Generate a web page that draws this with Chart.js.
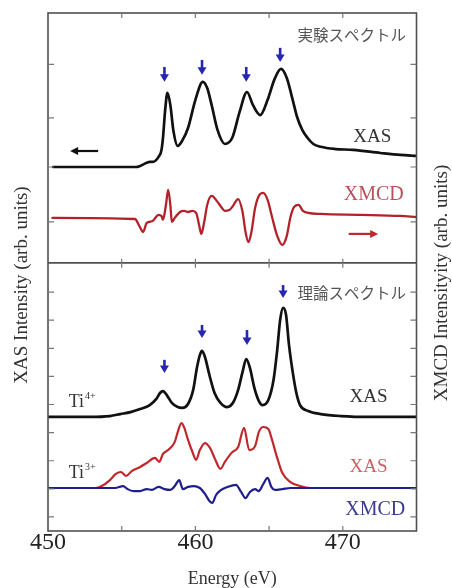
<!DOCTYPE html>
<html>
<head>
<meta charset="utf-8">
<script src="https://cdn.jsdelivr.net/npm/chart.js@4"></script>
<style>
html,body{margin:0;padding:0;background:#fff;}
#wrap{width:452px;height:588px;}
</style>
</head>
<body>
<div id="wrap"><canvas id="c" width="452" height="588"></canvas></div>
<script>
// ---------- data (energy in eV, intensity in arb. units on a shared offset axis) ----------
const energyMin = 450, energyMax = 475;
const energyTickLabels = [450, 460, 470];
const energyMinorTicks = [455, 460, 465, 470];
const intensityMax = 18.43;
const panelSplit = 9.54;
const yTicksTop = [11.0, 12.95, 14.7, 16.6];
const yTicksBottom = [0.5, 1.5, 2.5, 3.5, 4.5, 5.5, 6.5, 7.5, 8.5];

// experiment XAS (top)
const expXasE = [450.35, 456.0, 456.25, 456.7, 456.9, 457.1, 457.5, 457.7, 457.8, 457.95, 458.1, 458.3, 458.5, 458.8, 459.1, 459.5, 460.0, 460.5, 460.8, 461.1, 461.5, 462.0, 462.5, 463.0, 463.5, 463.9, 464.4, 464.9, 465.35, 465.8, 466.2, 466.6, 466.9, 467.25, 467.6, 468.0, 468.5, 469.5, 470.7, 472.55, 473.9, 475];
const expXasV = [12.95, 12.95, 12.99, 13.10, 13.13, 13.13, 13.31, 13.56, 13.99, 14.98, 15.59, 15.16, 14.27, 13.70, 13.88, 14.34, 15.34, 15.98, 15.76, 15.16, 14.27, 13.77, 13.99, 14.91, 15.62, 15.16, 14.80, 15.34, 16.05, 16.44, 16.12, 15.34, 14.73, 14.27, 13.99, 13.77, 13.67, 13.59, 13.56, 13.45, 13.38, 13.35];

// experiment XMCD (top)
const expXmcdE = [450.3, 455.9, 456.2, 456.45, 456.7, 457.1, 457.5, 457.7, 457.8, 458.0, 458.15, 458.3, 458.4, 458.6, 458.95, 459.25, 459.5, 459.8, 460.05, 460.25, 460.4, 460.6, 460.8, 461.1, 461.5, 461.75, 462.0, 462.3, 462.5, 462.9, 463.2, 463.4, 463.6, 463.8, 464.05, 464.3, 464.6, 464.9, 465.2, 465.55, 465.9, 466.2, 466.45, 466.7, 467.0, 467.3, 467.65, 468.5, 471.2, 473.9, 475];
const expXmcdV = [11.14, 11.10, 10.85, 10.64, 10.96, 11.03, 11.25, 11.21, 11.07, 11.60, 12.14, 11.60, 11.00, 11.14, 11.35, 11.39, 11.35, 11.39, 11.32, 10.89, 10.57, 11.00, 11.60, 11.92, 11.71, 11.53, 11.39, 11.42, 11.53, 11.81, 11.35, 10.64, 10.28, 10.64, 11.49, 11.92, 12.03, 11.78, 11.17, 10.50, 10.18, 10.50, 11.17, 11.53, 11.60, 11.39, 11.32, 11.28, 11.25, 11.21, 11.17];

// theory Ti4+ XAS (bottom)
const ti4XasE = [450, 452.85, 454.2, 454.9, 455.6, 456.25, 456.9, 457.35, 457.6, 457.8, 458.1, 458.4, 458.8, 459.1, 459.5, 459.85, 460.1, 460.3, 460.45, 460.65, 460.95, 461.3, 461.7, 462.15, 462.55, 462.9, 463.2, 463.45, 463.7, 464.0, 464.3, 464.55, 464.95, 465.3, 465.55, 465.75, 465.95, 466.15, 466.35, 466.6, 466.85, 467.1, 467.65, 468.5, 469.85, 471.9, 475];
const ti4XasV = [4.06, 4.06, 4.09, 4.16, 4.23, 4.34, 4.48, 4.70, 4.91, 4.98, 4.80, 4.56, 4.41, 4.38, 4.52, 5.02, 5.80, 6.26, 6.41, 6.19, 5.55, 4.91, 4.56, 4.41, 4.56, 5.02, 5.66, 6.12, 5.80, 5.09, 4.63, 4.48, 4.66, 5.37, 6.44, 7.51, 7.94, 7.69, 6.62, 5.66, 4.91, 4.48, 4.27, 4.16, 4.09, 4.06, 4.06];

// theory Ti3+ XAS (bottom)
const ti3XasE = [450, 453.2, 453.65, 454.2, 454.6, 454.95, 455.3, 455.7, 456.25, 456.7, 457.25, 457.55, 457.8, 458.15, 458.6, 458.8, 459.05, 459.25, 459.5, 459.8, 460.05, 460.3, 460.65, 461.0, 461.3, 461.7, 462.0, 462.45, 462.9, 463.3, 463.65, 464.05, 464.3, 464.6, 464.95, 465.2, 465.55, 465.9, 466.45, 467.1, 467.8, 475];
const ti3XasV = [1.53, 1.53, 1.60, 1.81, 2.03, 2.10, 1.96, 2.14, 2.28, 2.42, 2.60, 2.46, 2.74, 2.88, 3.17, 3.52, 3.84, 3.67, 3.24, 2.81, 2.53, 2.88, 3.13, 2.95, 2.60, 2.21, 2.46, 2.78, 2.99, 3.67, 2.88, 3.02, 3.52, 3.70, 3.63, 3.24, 2.60, 2.06, 1.74, 1.60, 1.53, 1.53];

// theory Ti3+ XMCD (bottom)
const ti3XmcdE = [450, 454.55, 455.1, 455.4, 455.8, 456.25, 456.7, 457.05, 457.5, 457.9, 458.3, 458.6, 458.9, 459.15, 459.5, 459.9, 460.3, 460.65, 460.95, 461.15, 461.4, 461.75, 462.2, 462.75, 463.1, 463.4, 463.7, 464.05, 464.3, 464.6, 464.9, 465.15, 465.4, 465.9, 466.45, 475];
const ti3XmcdV = [1.53, 1.53, 1.60, 1.49, 1.42, 1.42, 1.49, 1.46, 1.57, 1.49, 1.46, 1.60, 1.81, 1.49, 1.57, 1.60, 1.53, 1.32, 1.07, 1.00, 1.28, 1.46, 1.57, 1.64, 1.39, 1.17, 1.39, 1.49, 1.42, 1.67, 1.89, 1.57, 1.46, 1.49, 1.53, 1.53];

// peak markers (down arrows): energy, arrow tail, arrow tip
const peakArrowE    = [457.9, 460.45, 463.45, 465.75, 457.9, 460.45, 463.5, 465.95];
const peakArrowTail = [16.51, 16.76, 16.51, 17.19, 6.09, 7.33, 7.15, 8.75];
const peakArrowTip  = [15.98, 16.23, 15.98, 16.69, 5.62, 6.87, 6.62, 8.29];

// ---------- annotations ----------
const SERIF = '"Liberation Serif", "Times New Roman", serif';
const CJK = '"Noto Sans CJK JP", "Noto Sans", sans-serif';
const textNotes = [
  {t: '実験スペクトル', e: 470.6, v: 17.65, c: '#555', f: '15.5px ' + CJK},
  {t: 'XAS', e: 472.0, v: 14.0, c: '#333', f: '19px ' + SERIF},
  {t: 'XMCD', e: 472.1, v: 11.96, c: '#b8505c', f: '20px ' + SERIF},
  {t: '理論スペクトル', e: 470.6, v: 8.47, c: '#555', f: '15.5px ' + CJK},
  {t: 'XAS', e: 471.75, v: 4.77, c: '#333', f: '19px ' + SERIF},
  {t: 'XAS', e: 471.75, v: 2.28, c: '#d06068', f: '19px ' + SERIF},
  {t: 'XMCD', e: 472.2, v: 0.75, c: '#3a3a90', f: '20px ' + SERIF}
];
const ionNotes = [
  {t: 'Ti', sup: '4+', e: 451.4, v: 4.59},
  {t: 'Ti', sup: '3+', e: 451.4, v: 2.06}
];
const sideArrows = [
  {from: 453.4, to: 451.5, v: 13.52, c: '#111'},
  {from: 470.4, to: 472.4, v: 10.57, c: '#c0282c'}
];

function pts(xs, ys) { return xs.map((x, i) => ({x: x, y: ys[i]})); }

const overlay = {
  id: 'overlay',
  afterDatasetsDraw(chart) {
    const {ctx, chartArea: a, scales: {x, y}} = chart;
    ctx.save();
    // frame + panel separator
    ctx.strokeStyle = '#505050';
    ctx.lineWidth = 1.6;
    ctx.strokeRect(a.left, a.top, a.right - a.left, a.bottom - a.top);
    const ys = y.getPixelForValue(panelSplit);
    ctx.beginPath(); ctx.moveTo(a.left, ys); ctx.lineTo(a.right, ys); ctx.stroke();
    // inward ticks
    ctx.strokeStyle = '#777';
    ctx.lineWidth = 1.2;
    ctx.beginPath();
    energyMinorTicks.forEach(e => {
      const px = x.getPixelForValue(e);
      ctx.moveTo(px, a.top); ctx.lineTo(px, a.top + 5);
      ctx.moveTo(px, ys - 4); ctx.lineTo(px, ys + 5);
      ctx.moveTo(px, a.bottom); ctx.lineTo(px, a.bottom - 5);
    });
    yTicksTop.concat(yTicksBottom).forEach(v => {
      const py = y.getPixelForValue(v);
      ctx.moveTo(a.left, py); ctx.lineTo(a.left + 6, py);
      ctx.moveTo(a.right, py); ctx.lineTo(a.right - 6, py);
    });
    ctx.stroke();
    // peak arrows
    ctx.strokeStyle = '#2626b0';
    ctx.fillStyle = '#2626b0';
    ctx.lineWidth = 2.6;
    peakArrowE.forEach((e, i) => {
      const px = x.getPixelForValue(e);
      const t = y.getPixelForValue(peakArrowTail[i]);
      const h = y.getPixelForValue(peakArrowTip[i]);
      ctx.beginPath(); ctx.moveTo(px, t); ctx.lineTo(px, h - 5); ctx.stroke();
      ctx.beginPath(); ctx.moveTo(px - 4.5, h - 7.5); ctx.lineTo(px + 4.5, h - 7.5); ctx.lineTo(px, h); ctx.closePath(); ctx.fill();
    });
    // axis-direction arrows
    sideArrows.forEach(s => {
      const x0 = x.getPixelForValue(s.from), x1 = x.getPixelForValue(s.to);
      const py = y.getPixelForValue(s.v);
      const dir = Math.sign(x1 - x0);
      ctx.strokeStyle = s.c; ctx.fillStyle = s.c; ctx.lineWidth = 2.2;
      ctx.beginPath(); ctx.moveTo(x0, py); ctx.lineTo(x1 - dir * 5, py); ctx.stroke();
      ctx.beginPath(); ctx.moveTo(x1, py); ctx.lineTo(x1 - dir * 8, py - 4); ctx.lineTo(x1 - dir * 8, py + 4); ctx.closePath(); ctx.fill();
    });
    // text notes
    ctx.textAlign = 'center';
    ctx.textBaseline = 'middle';
    textNotes.forEach(n => {
      ctx.font = n.f; ctx.fillStyle = n.c;
      ctx.fillText(n.t, x.getPixelForValue(n.e), y.getPixelForValue(n.v));
    });
    ctx.textAlign = 'left';
    ionNotes.forEach(n => {
      const px = x.getPixelForValue(n.e), py = y.getPixelForValue(n.v);
      ctx.fillStyle = '#333';
      ctx.font = '18px ' + SERIF;
      ctx.fillText(n.t, px, py);
      const w = ctx.measureText(n.t).width;
      ctx.font = '10px ' + SERIF;
      ctx.fillText(n.sup, px + w + 1, py - 6);
    });
    // axis titles
    ctx.fillStyle = '#333';
    ctx.font = '19px ' + SERIF;
    ctx.textAlign = 'center';
    ctx.save();
    ctx.translate(22, 285); ctx.rotate(-Math.PI / 2);
    ctx.fillText('XAS Intensity (arb. units)', 0, 0);
    ctx.restore();
    ctx.save();
    ctx.translate(442, 283); ctx.rotate(-Math.PI / 2);
    ctx.fillText('XMCD Intensityity (arb. units)', 0, 0);
    ctx.restore();
    ctx.restore();
  }
};

const lineStyle = {pointRadius: 0, cubicInterpolationMode: 'monotone', fill: false, borderJoinStyle: 'round', borderCapStyle: 'round'};

new Chart(document.getElementById('c'), {
  type: 'line',
  data: {
    datasets: [
      Object.assign({label: 'Exp XAS', data: pts(expXasE, expXasV), borderColor: '#111', borderWidth: 2.7}, lineStyle),
      Object.assign({label: 'Exp XMCD', data: pts(expXmcdE, expXmcdV), borderColor: '#b3222a', borderWidth: 2.3}, lineStyle),
      Object.assign({label: 'Ti4+ XAS', data: pts(ti4XasE, ti4XasV), borderColor: '#111', borderWidth: 2.7}, lineStyle),
      Object.assign({label: 'Ti3+ XMCD', data: pts(ti3XmcdE, ti3XmcdV), borderColor: '#1e1e8c', borderWidth: 2.2}, lineStyle),
      Object.assign({label: 'Ti3+ XAS', data: pts(ti3XasE, ti3XasV), borderColor: '#c0282c', borderWidth: 2.2}, lineStyle)
    ]
  },
  options: {
    responsive: false,
    devicePixelRatio: 1,
    animation: false,
    events: [],
    layout: {padding: {left: 48, right: 35.5, top: 13, bottom: 0}},
    plugins: {legend: {display: false}, tooltip: {enabled: false}},
    scales: {
      x: {
        type: 'linear', min: energyMin, max: energyMax,
        afterBuildTicks: s => { s.ticks = energyTickLabels.map(v => ({value: v})); },
        grid: {display: false, drawTicks: false, tickLength: 0},
        border: {display: false},
        ticks: {autoSkip: false, maxRotation: 0, padding: 0, color: '#222',
                font: {family: SERIF, size: 24, lineHeight: 1}},
        title: {display: true, text: 'Energy (eV)', color: '#333',
                font: {family: SERIF, size: 18, lineHeight: 1}, padding: {top: 15, bottom: 0}}
      },
      y: {type: 'linear', min: 0, max: intensityMax, display: false}
    }
  },
  plugins: [overlay]
});
</script>
</body>
</html>
